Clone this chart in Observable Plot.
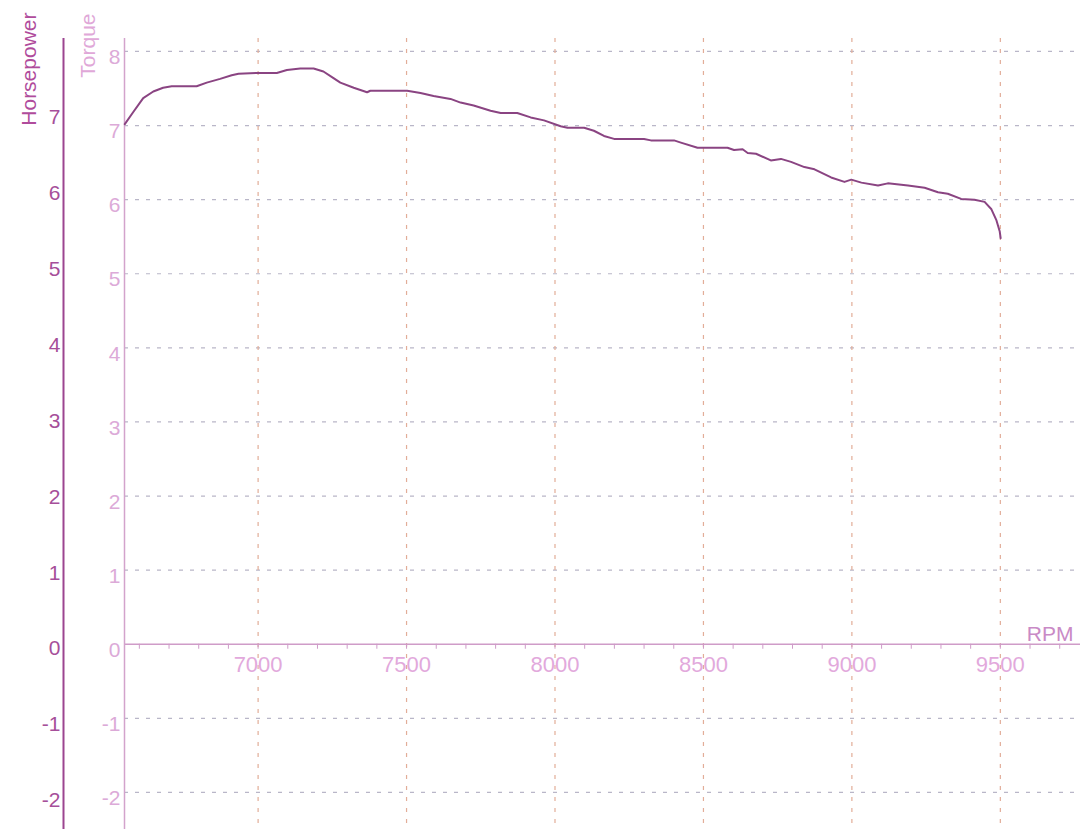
<!DOCTYPE html>
<html>
<head>
<meta charset="utf-8">
<script src="https://cdn.jsdelivr.net/npm/d3@7"></script>
<script src="https://cdn.jsdelivr.net/npm/@observablehq/plot@0.6"></script>
<style>
  html, body { margin: 0; padding: 0; background: #ffffff; }
  #chart svg { display: block; }
</style>
</head>
<body>
<div id="chart"></div>
<script>
// Dyno run: torque against engine speed
const rpm = [6551, 6579, 6613, 6647, 6680, 6709, 6793, 6827, 6872, 6911, 6934, 6996, 7063, 7097, 7142, 7187,
  7220, 7254, 7277, 7322, 7367, 7378, 7502, 7547, 7591, 7648, 7682, 7726, 7783, 7817, 7873, 7918, 7963,
  8019, 8042, 8098, 8131, 8165, 8199, 8300, 8323, 8401, 8424, 8480, 8581, 8603, 8632, 8649, 8677, 8727,
  8761, 8795, 8840, 8874, 8930, 8975, 8998, 9032, 9088, 9121, 9189, 9245, 9290, 9323, 9368, 9413, 9447,
  9470, 9487, 9498, 9501];
const torque = [7.02, 7.18, 7.37, 7.46, 7.51, 7.53, 7.53, 7.58, 7.63, 7.68, 7.70, 7.71, 7.71, 7.75, 7.77, 7.77,
  7.73, 7.64, 7.58, 7.51, 7.45, 7.47, 7.47, 7.44, 7.40, 7.36, 7.31, 7.27, 7.20, 7.17, 7.17, 7.11, 7.07,
  6.99, 6.97, 6.97, 6.93, 6.86, 6.82, 6.82, 6.80, 6.80, 6.77, 6.70, 6.70, 6.67, 6.68, 6.63, 6.62, 6.53,
  6.55, 6.51, 6.44, 6.41, 6.30, 6.24, 6.27, 6.23, 6.19, 6.22, 6.19, 6.16, 6.10, 6.08, 6.01, 6.00, 5.97,
  5.87, 5.72, 5.57, 5.48];

// Axis ticks
const rpmMajor = [7000, 7500, 8000, 8500, 9000, 9500];
const rpmMinor = [6600, 6700, 6800, 6900, 7000, 7100, 7200, 7300, 7400, 7500, 7600, 7700, 7800, 7900,
  8000, 8100, 8200, 8300, 8400, 8500, 8600, 8700, 8800, 8900, 9000, 9100, 9200, 9300, 9400, 9500, 9600, 9700];
const torqueTicks = [-2, -1, 0, 1, 2, 3, 4, 5, 6, 7, 8];
const hpTicks = [-2, -1, 0, 1, 2, 3, 4, 5, 6, 7];

const rpmDomain = [6550, 9770];
const torqueDomain = [-2.5, 8.175];

// The horsepower axis runs on its own slightly stretched scale, expressed in torque units
const hpToTorque = h => h * 1.0244 - 0.06;

const font = "'Liberation Sans', Arial, Helvetica, sans-serif";

const chart = Plot.plot({
  width: 1084,
  height: 829,
  marginLeft: 124,
  marginRight: 4,
  marginTop: 38,
  marginBottom: 0,
  x: {domain: rpmDomain, axis: null},
  y: {domain: torqueDomain, axis: null},
  style: {fontFamily: font, background: "#ffffff", overflow: "visible"},
  marks: [
    // dashed grid
    Plot.ruleY(torqueTicks.filter(d => d !== 0), {
      stroke: "#b9b6c8", strokeWidth: 1.2, strokeDasharray: "4,7"
    }),
    Plot.ruleX(rpmMajor, {
      stroke: "#e2ad98", strokeWidth: 1.2, strokeDasharray: "4,7"
    }),
    // rpm axis along zero torque
    Plot.ruleY([0], {stroke: "#cf9cc8", strokeWidth: 1.5}),
    Plot.ruleX(rpmMinor, {x: d => d, y1: 0, y2: 0, insetTop: 0, insetBottom: -5, stroke: "#cf9cc8", strokeWidth: 1}),
    Plot.text(rpmMajor, {
      x: d => d, y: 0, text: d => String(d), dy: 21,
      fill: "#e2a9dc", fontSize: 22, textAnchor: "middle"
    }),
    Plot.text(["RPM"], {
      x: rpmDomain[1], y: 0, text: d => d, dx: -7, dy: -10,
      fill: "#c98ac6", fontSize: 21, textAnchor: "end"
    }),
    // torque axis
    Plot.ruleX([rpmDomain[0]], {stroke: "#d3a3cc", strokeWidth: 1.5}),
    Plot.text(torqueTicks, {
      x: rpmDomain[0], y: d => d, text: d => String(d), dx: -4, dy: 6,
      fill: "#dcaad8", fontSize: 21, textAnchor: "end"
    }),
    Plot.text(["Torque"], {
      frameAnchor: "top-left", text: d => d, rotate: -90, textAnchor: "end",
      dx: -44, dy: -25, fill: "#e0a8d8", fontSize: 21
    }),
    // horsepower axis
    Plot.ruleX([rpmDomain[0]], {dx: -61, stroke: "#9c4590", strokeWidth: 2}),
    Plot.text(hpTicks, {
      x: rpmDomain[0], y: d => hpToTorque(d), text: d => String(d), dx: -64,
      fill: "#a64f9a", fontSize: 21, textAnchor: "end"
    }),
    Plot.text(["Horsepower"], {
      frameAnchor: "top-left", text: d => d, rotate: -90, textAnchor: "end",
      dx: -103, dy: -26, fill: "#b04c9c", fontSize: 21
    }),
    // torque curve
    Plot.line(rpm.map((r, i) => ({rpm: r, torque: torque[i]})), {
      x: "rpm", y: "torque", stroke: "#8a4482", strokeWidth: 2, curve: "linear"
    })
  ]
});

document.getElementById("chart").appendChild(chart);
</script>
</body>
</html>
